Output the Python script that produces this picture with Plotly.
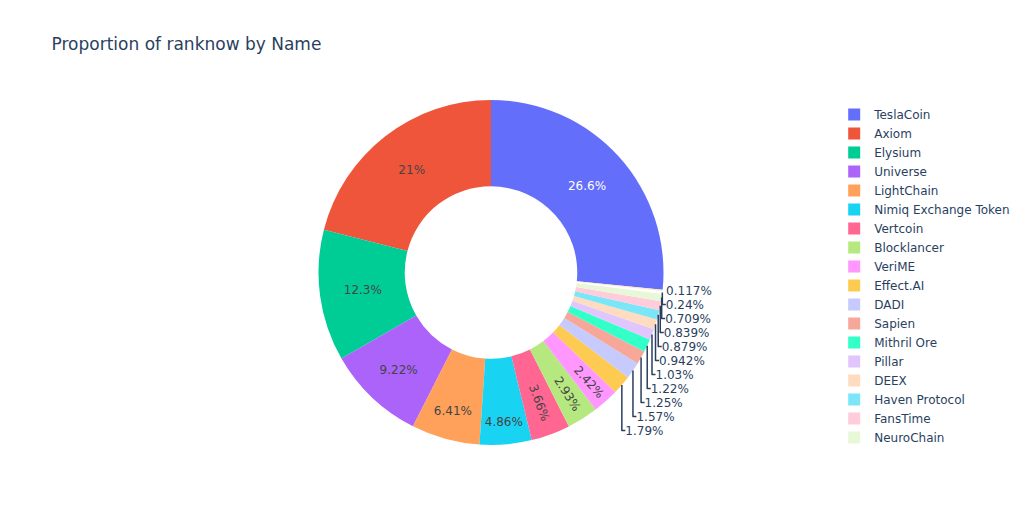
import plotly.express as px

names = ["TeslaCoin", "Axiom", "Elysium", "Universe", "LightChain", "Nimiq Exchange Token",
         "Vertcoin", "Blocklancer", "VeriME", "Effect.AI", "DADI", "Sapien", "Mithril Ore",
         "Pillar", "DEEX", "Haven Protocol", "FansTime", "NeuroChain", "Aeron", "Ink"]
ranknow = [26.6, 21.0, 12.3, 9.22, 6.41, 4.86, 3.66, 2.93, 2.42, 1.79, 1.57, 1.25, 1.22,
           1.03, 0.942, 0.879, 0.839, 0.709, 0.24, 0.117]

fig = px.pie(names=names, values=ranknow, hole=0.5,
             title="Proportion of ranknow by Name")
positions = ["inside" if v > 2 else "outside" for v in ranknow]
fig.update_traces(textposition=positions)
fig.update_layout(width=1031, height=525, font=dict(family="DejaVu Sans"))
fig.write_html("out.html", config={"staticPlot": True},
               post_script="document.body.style.margin='0';")
